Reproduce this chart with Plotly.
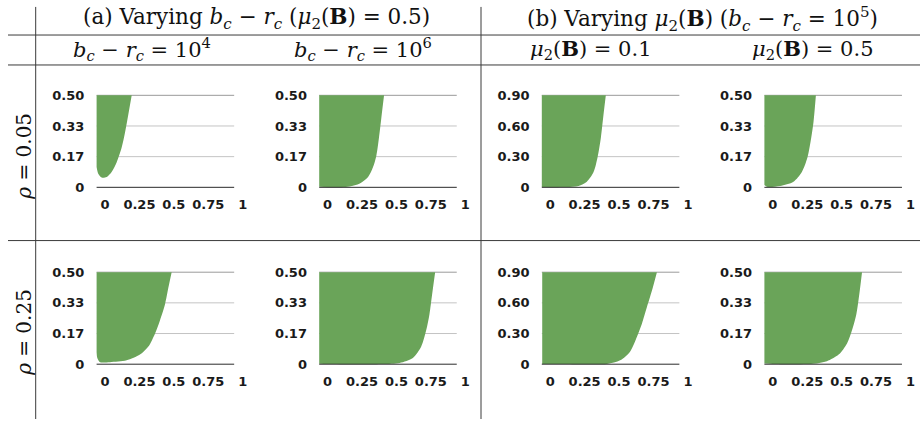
import plotly.graph_objects as go

# ---------------- data (lower boundary of the shaded region) ----------------
# Row rho = 0.05
r1_b1e4_x = [-0.061, -0.049, -0.024, 0.012, 0.048, 0.085, 0.121, 0.145, 0.169, 0.194]
r1_b1e4_y = [0.11, 0.074, 0.053, 0.056, 0.083, 0.136, 0.216, 0.296, 0.394, 0.5]

r1_b1e6_x = [-0.061, 0.0, 0.10, 0.16, 0.234, 0.294, 0.33, 0.354, 0.373, 0.39, 0.41]
r1_b1e6_y = [0.003, 0.001, 0.001, 0.004, 0.021, 0.056, 0.11, 0.172, 0.269, 0.376, 0.5]

r1_mu01_x = [-0.061, 0.0, 0.12, 0.206, 0.266, 0.315, 0.344, 0.368, 0.387, 0.404]
r1_mu01_y = [0.002, 0.001, 0.002, 0.012, 0.054, 0.149, 0.293, 0.485, 0.709, 0.9]

r1_mu05_x = [-0.061, -0.044, 0.053, 0.15, 0.211, 0.252, 0.279, 0.296, 0.313]
r1_mu05_y = [0.012, 0.003, 0.007, 0.03, 0.083, 0.163, 0.269, 0.358, 0.5]

# Row rho = 0.25
r2_b1e4_x = [-0.061, -0.056, -0.036, 0.036, 0.157, 0.254, 0.315, 0.363, 0.399, 0.436, 0.46, 0.484]
r2_b1e4_y = [0.065, 0.034, 0.011, 0.011, 0.021, 0.052, 0.096, 0.166, 0.238, 0.326, 0.415, 0.5]

r2_b1e6_x = [-0.061, 0.0, 0.20, 0.40, 0.523, 0.619, 0.68, 0.716, 0.74, 0.759, 0.781]
r2_b1e6_y = [0.003, 0.001, 0.0, 0.001, 0.007, 0.034, 0.096, 0.184, 0.273, 0.379, 0.5]

r2_mu01_x = [-0.058, 0.0, 0.20, 0.412, 0.508, 0.581, 0.63, 0.666, 0.702, 0.738, 0.775]
r2_mu01_y = [0.003, 0.001, 0.0, 0.003, 0.038, 0.125, 0.268, 0.396, 0.556, 0.715, 0.9]

r2_mu05_x = [-0.061, 0.0, 0.15, 0.296, 0.393, 0.478, 0.539, 0.575, 0.607, 0.631, 0.648]
r2_mu05_y = [0.004, 0.001, 0.0, 0.002, 0.016, 0.052, 0.113, 0.184, 0.273, 0.397, 0.5]

# axis ticks
x_tickvals = [0, 0.25, 0.5, 0.75, 1]
x_ticktext = ["0", "0.25", "0.5", "0.75", "1"]
y_tickvals_05 = [0, 1 / 6, 2 / 6, 0.5]
y_ticktext_05 = ["0", "0.17", "0.33", "0.50"]
y_tickvals_09 = [0, 0.3, 0.6, 0.9]
y_ticktext_09 = ["0", "0.30", "0.60", "0.90"]

# headers
bc_rc = "<i>b</i><sub><i>c</i></sub> − <i>r</i><sub><i>c</i></sub>"
mu2B = "<i>μ</i><sub>2</sub>(<b>B</b>)"
group_headers = [
    f"(a) Varying {bc_rc} ({mu2B} = 0.5)",
    f"(b) Varying {mu2B} ({bc_rc} = 10<sup>5</sup>)",
]
col_headers = [
    f"{bc_rc} = 10<sup>4</sup>",
    f"{bc_rc} = 10<sup>6</sup>",
    f"{mu2B} = 0.1",
    f"{mu2B} = 0.5",
]
row_headers = ["<i>ρ</i> = 0.05", "<i>ρ</i> = 0.25"]

panels = [
    # (row, col, xs, ys, ymax)
    (0, 0, r1_b1e4_x, r1_b1e4_y, 0.5),
    (0, 1, r1_b1e6_x, r1_b1e6_y, 0.5),
    (0, 2, r1_mu01_x, r1_mu01_y, 0.9),
    (0, 3, r1_mu05_x, r1_mu05_y, 0.5),
    (1, 0, r2_b1e4_x, r2_b1e4_y, 0.5),
    (1, 1, r2_b1e6_x, r2_b1e6_y, 0.5),
    (1, 2, r2_mu01_x, r2_mu01_y, 0.9),
    (1, 3, r2_mu05_x, r2_mu05_y, 0.5),
]

# ---------------- layout geometry (pixels) ----------------
W, H = 920, 424
GREEN = "#6aa459"
col_x0 = [105, 327.6, 550.2, 772.8]   # pixel of x = 0
sx = 137.7                            # px per x unit
row_y0 = [187.3, 368.0]               # pixel of y = 0
plot_h = 94.0                         # px from 0 to ymax
x_left, x_right, x_axis_end = -0.07, 1.06, 0.938
x_fill_left = -0.061

fig = go.Figure()
layout = dict(
    width=W, height=H, margin=dict(l=0, r=0, t=0, b=0),
    paper_bgcolor="white", plot_bgcolor="rgba(0,0,0,0)",
    showlegend=False,
)
shapes = []

tick_font = dict(family="DejaVu Sans", size=13, color="#1a1a1a", weight="bold")

for i, (r, c, xs, ys, ymax) in enumerate(panels):
    n = i + 1
    xa = "x" if n == 1 else f"x{n}"
    ya = "y" if n == 1 else f"y{n}"
    sy = plot_h / ymax
    pad = 3 / sy
    x0 = col_x0[c]
    dom_x = [(x0 + x_left * sx) / W, (x0 + x_right * sx) / W]
    y_bot_px = row_y0[r] + 3
    y_top_px = row_y0[r] - plot_h - 3
    dom_y = [1 - y_bot_px / H, 1 - y_top_px / H]

    tv, tt = (y_tickvals_09, y_ticktext_09) if ymax > 0.6 else (y_tickvals_05, y_ticktext_05)

    layout[f"xaxis{'' if n == 1 else n}"] = dict(
        domain=dom_x, range=[x_left, x_right], anchor=ya,
        showgrid=False, zeroline=False, showline=False,
        tickmode="array", tickvals=x_tickvals, ticktext=x_ticktext,
        ticks="", tickfont=tick_font, ticklabelstandoff=5, fixedrange=True,
    )
    layout[f"yaxis{'' if n == 1 else n}"] = dict(
        domain=dom_y, range=[-pad, ymax + pad], anchor=xa,
        showgrid=False, zeroline=False, showline=False,
        tickmode="array", tickvals=tv, ticktext=tt,
        ticks="", tickfont=tick_font, ticklabelstandoff=10, fixedrange=True,
    )

    # lower boundary then filled up to the top value
    fig.add_trace(go.Scatter(
        x=xs, y=ys, xaxis=xa, yaxis=ya, mode="lines",
        line=dict(width=0, shape="spline", smoothing=0.8, color=GREEN),
        hoverinfo="skip",
    ))
    fig.add_trace(go.Scatter(
        x=xs, y=[ymax] * len(xs), xaxis=xa, yaxis=ya, mode="lines",
        line=dict(width=0, color=GREEN), fill="tonexty", fillcolor=GREEN,
        hoverinfo="skip",
    ))

    # gridlines
    for k, v in enumerate(tv[1:]):
        shapes.append(dict(
            type="line", xref=xa, yref=ya, x0=x_fill_left, x1=x_axis_end, y0=v, y1=v,
            line=dict(color="#9a9a9a" if k == len(tv) - 2 else "#c4c4c4", width=1),
            layer="below",
        ))
    # baseline
    shapes.append(dict(
        type="line", xref=xa, yref=ya, x0=x_fill_left, x1=x_axis_end, y0=0, y1=0,
        line=dict(color="#2a2a2a", width=1), layer="above",
    ))

# table rules
rule = dict(color="#3a3a3a", width=1)
for yp in [31.7, 62.3, 241.7]:
    shapes.append(dict(type="line", xref="paper", yref="paper",
                       x0=8 / W, x1=1, y0=1 - yp / H, y1=1 - yp / H, line=rule))
for xp in [35.7, 481]:
    shapes.append(dict(type="line", xref="paper", yref="paper",
                       x0=xp / W, x1=xp / W, y0=1 - 3 / H, y1=0, line=rule))

layout["shapes"] = shapes

serif = dict(family="DejaVu Serif", size=21.5, color="#111111")
serif_col = dict(family="DejaVu Serif", size=21, color="#111111")
serif_row = dict(family="DejaVu Serif", size=20, color="#111111")
annotations = []
for txt, xc in zip(group_headers, [256, 702]):
    annotations.append(dict(text=txt, x=xc / W, y=1 - 15 / H, xref="paper", yref="paper",
                            showarrow=False, font=serif, xanchor="center", yanchor="middle"))
for txt, xc in zip(col_headers, [142, 363, 591, 813]):
    annotations.append(dict(text=txt, x=xc / W, y=1 - 46 / H, xref="paper", yref="paper",
                            showarrow=False, font=serif_col, xanchor="center", yanchor="middle"))
for txt, yc in zip(row_headers, [156, 336]):
    annotations.append(dict(text=txt, x=24 / W, y=1 - yc / H, xref="paper", yref="paper",
                            showarrow=False, font=serif_row, textangle=-90,
                            xanchor="center", yanchor="middle"))
layout["annotations"] = annotations

fig.update_layout(**layout)
fig.write_html(
    "out.html",
    config={"displayModeBar": False, "staticPlot": True},
    post_script="document.body.style.margin='0';document.body.style.padding='0';",
)
